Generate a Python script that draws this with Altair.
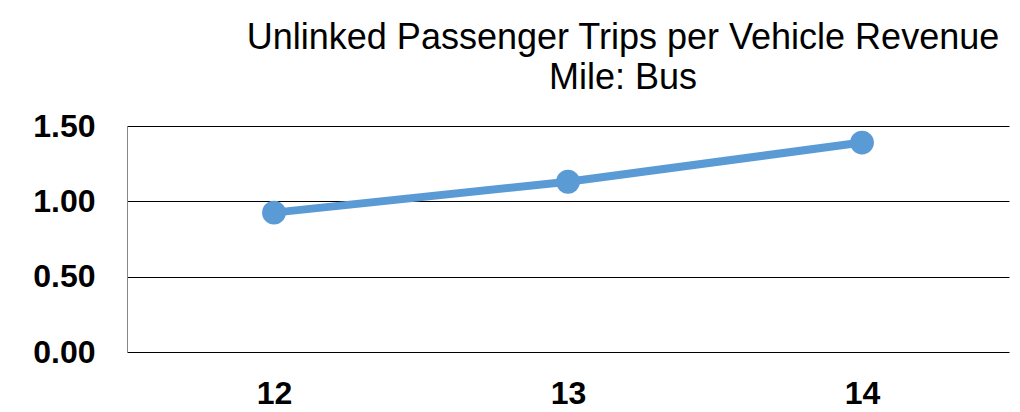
import altair as alt
import pandas as pd

years = ["12", "13", "14"]
values = [0.925, 1.13, 1.39]
y_ticks = [0, 0.5, 1.0, 1.5]

df = pd.DataFrame({"year": years, "value": values})

FONT = "Liberation Sans"
COLOR = "#5B9BD5"

x = alt.X("year:O", sort=years, scale=alt.Scale(type="point", padding=0.5),
          axis=alt.Axis(title=None, labelAngle=0, labelFontSize=32, labelFontWeight="bold",
                        labelFont=FONT, labelColor="black", ticks=False, domain=False,
                        labelPadding=26, grid=False))
y = alt.Y("value:Q", scale=alt.Scale(domain=[0, 1.5], nice=False),
          axis=alt.Axis(title=None, values=y_ticks, format=".2f", labelFontSize=32,
                        labelFontWeight="bold", labelFont=FONT, labelColor="black",
                        ticks=False, labelPadding=32, domainColor="#868686",
                        gridColor="black", gridWidth=1, gridOpacity=1))

base = alt.Chart(df).encode(x=x, y=y)
line = base.mark_line(color=COLOR, strokeWidth=8)
pts = base.mark_point(color=COLOR, filled=True, size=570, opacity=1)

chart = (line + pts).properties(
    width=882, height=226,
    title=alt.TitleParams(
        text=["Unlinked Passenger Trips per Vehicle Revenue", "Mile: Bus"],
        font=FONT, fontSize=36, fontWeight="normal", color="black",
        anchor="middle", dx=55, lineHeight=40, offset=13),
    autosize=alt.AutoSizeParams(type="none"),
    padding={"left": 119, "top": 118, "right": 3, "bottom": 60},
).configure_view(stroke=None)

chart.save("out.html", embed_options={"renderer": "svg", "actions": False})
